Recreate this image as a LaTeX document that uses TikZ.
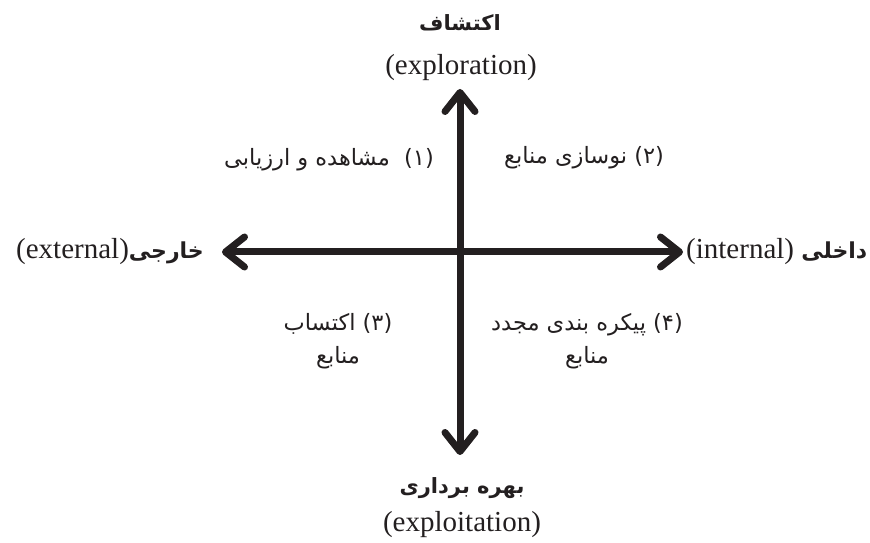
\documentclass[tikz,border=0pt]{standalone}
\usepackage{fontspec}
\setmainfont{Liberation Serif}
\newfontfamily\fa[Script=Arabic]{DejaVu Sans}
\TeXXeTstate=1
\usetikzlibrary{arrows.meta,positioning}
\definecolor{ink}{HTML}{231F20}

\begin{document}
\begin{tikzpicture}[x=1pt,y=1pt,
 barb/.tip={Straight Barb[length=19pt,width=30pt,round]},
 axis/.style={line width=7pt,draw=ink,barb-barb},
 en/.style={font=\fontsize{29}{34}\selectfont,text=ink,inner sep=0pt},
 pole/.style={font=\fa\bfseries\fontsize{21}{26}\selectfont,text=ink,inner sep=0pt},
 quad/.style={font=\fa\fontsize{22.5}{33}\selectfont,text=ink,align=center,inner sep=0pt}]
\useasboundingbox (0,0) rectangle (870,543);
% axes
\coordinate (north) at (460,454);
\coordinate (south) at (460,88);
\coordinate (west) at (222,291);
\coordinate (east) at (683,291);
\draw[axis] (south)--(north);
\draw[axis] (west)--(east);
% poles
\node[pole,anchor=base] (explore) at (460,512) {\beginR اکتشاف\endR};
\node[en,anchor=base] (exploreEn) at (461,468) {(exploration)};
\node[pole,anchor=base] (exploit) at (462,49) {\beginR بهره برداری\endR};
\node[en,anchor=base] (exploitEn) at (462,11) {(exploitation)};
\node[en,anchor=base east] (external) at (204,284) {(external){\fa\bfseries\fontsize{22}{26}\selectfont\beginR خارجی\endR}};
\node[en,anchor=base west] (internal) at (686,284) {(internal) {\fa\bfseries\fontsize{22}{26}\selectfont\beginR داخلی\endR}};
% quadrants
\node[quad] (observe) at (329,383) {\beginR مشاهده و ارزیابی\endR\ \ (۱)};
\node[quad] (renew) at (584,385) {\beginR نوسازی منابع\endR\ (۲)};
\node[quad] (acquire) at (338,202) {\beginR اکتساب\endR\ (۳)\\\beginR منابع\endR};
\node[quad] (reconfig) at (587,202) {\beginR پیکره بندی مجدد\endR\ (۴)\\\beginR منابع\endR};
\end{tikzpicture}
\end{document}
